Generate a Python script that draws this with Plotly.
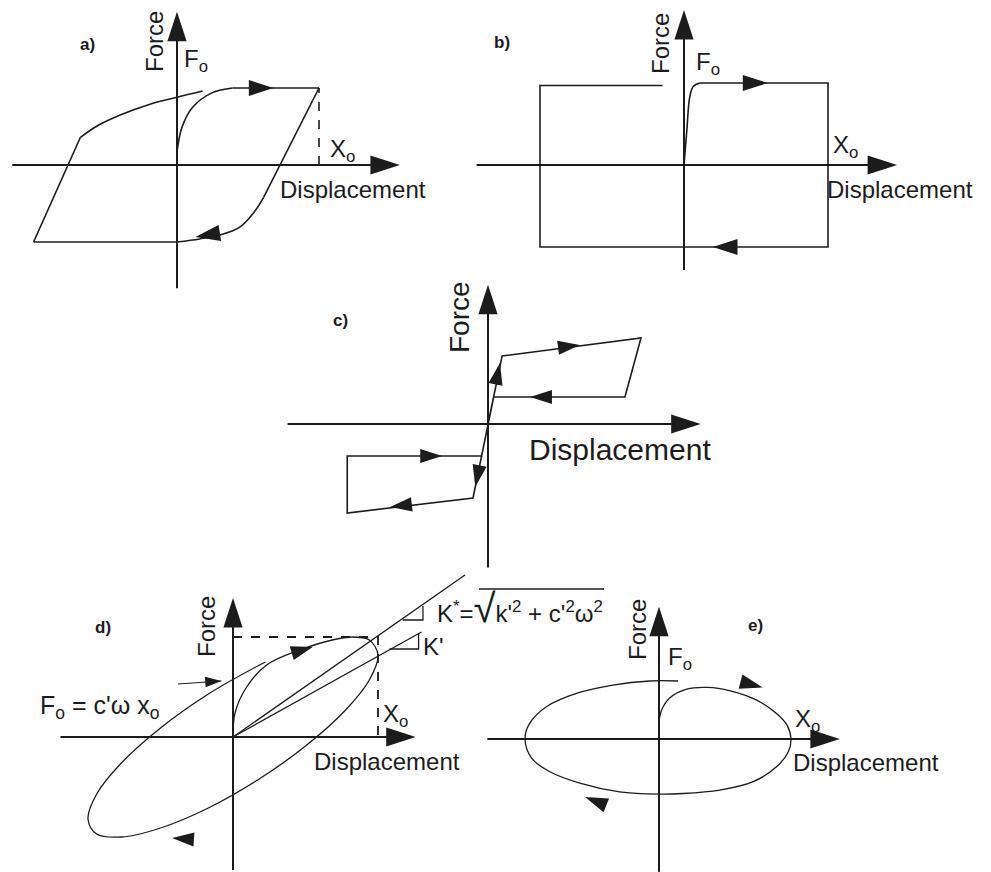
import plotly.graph_objects as go

W, H = 991, 872
INK = "#1c1c1c"
FONT = "Liberation Sans, Arial, Helvetica, sans-serif"

# Units in every panel: displacement in X_o, force in F_o (peak force).

# ---------- a) curved-knee hysteresis ----------
a_init_x = [0.0, 0.035, 0.11, 0.25, 0.39]
a_init_f = [0.17, 0.49, 0.75, 0.94, 1.0]
a_top_x = [0.39, 1.0]
a_top_f = [1.0, 1.0]
a_unload_x = [1.0, 0.61]
a_unload_f = [1.0, -0.42]
a_knee_x = [0.61, 0.54, 0.44, 0.30, 0.16, 0.0]
a_knee_f = [-0.42, -0.62, -0.81, -0.91, -0.96, -1.0]
a_bottom_x = [0.0, -1.01]
a_bottom_f = [-1.0, -1.0]
a_reload_x = [-1.01, -0.68]
a_reload_f = [-1.0, 0.36]
a_return_x = [-0.68, -0.56, -0.40, -0.19, 0.0, 0.18]
a_return_f = [0.36, 0.51, 0.65, 0.79, 0.88, 0.96]
a_xo_x = [1.0, 1.0]
a_xo_f = [0.0, 1.0]
# arrowheads: tip x, tip f, travel direction dx, df
a_arrows = [(0.68, 1.0, 1.0, 0.0), (0.13, -0.935, -1.0, -0.3)]

# ---------- b) rigid-plastic (friction) loop ----------
b_init_x = [0.0, 0.02, 0.04, 0.065, 0.11]
b_init_f = [0.0, 0.43, 0.83, 0.96, 1.0]
b_loop_x = [0.11, 1.0, 1.0, -1.0, -1.0, -0.15]
b_loop_f = [1.0, 1.0, -1.0, -1.0, 0.97, 0.97]
b_arrows = [(0.58, 1.0, 1.0, 0.0), (0.2, -1.0, -1.0, 0.0)]

# ---------- c) bilinear loop ----------
c_loop_x = [0.0, 0.092, 1.0, 0.895, 0.037, 0.0, -0.098, -0.92, -0.92, -0.045]
c_loop_f = [0.0, 0.79, 1.0, 0.314, 0.314, 0.0, -0.86, -1.035, -0.372, -0.372]
c_arrows = [(0.078, 0.71, 0.092, 0.79), (0.60, 0.92, 0.908, 0.21),
            (0.275, 0.314, -1.0, 0.0), (-0.083, -0.73, -0.098, -0.86),
            (-0.64, -0.965, -0.82, -0.175), (-0.30, -0.372, 1.0, 0.0)]

# ---------- d) viscoelastic ellipse ----------
d_init_x = [0.0, 0.014, 0.094, 0.232, 0.46, 0.715, 0.82]
d_init_f = [0.0, 0.24, 0.50, 0.72, 0.87, 0.98, 1.0]
d_loop_x = [0.82, 0.94, 1.0, 0.94, 0.77, 0.5, 0.17, -0.17, -0.5, -0.77, -0.94,
            -1.0, -0.94, -0.77, -0.5, -0.17, 0.17, 0.225]
d_loop_f = [1.0, 0.97, 0.82, 0.57, 0.26, -0.09, -0.43, -0.71, -0.91, -1.0, -0.97,
            -0.82, -0.57, -0.26, 0.09, 0.43, 0.71, 0.75]
d_kstar_x = [0.0, 1.6]
d_kstar_f = [0.0, 1.62]
d_kprime_x = [0.0, 1.3]
d_kprime_f = [0.0, 1.05]
d_tri1_x = [1.17, 1.31, 1.31]
d_tri1_f = [1.17, 1.17, 1.31]
d_tri2_x = [1.08, 1.28, 1.28]
d_tri2_f = [0.88, 0.88, 1.04]
d_peak_x = [0.0, 1.0, 1.0]
d_peak_f = [1.0, 1.0, 0.0]
d_arrows = [(0.55, 0.90, 1.0, 0.42), (-0.42, -1.01, -1.0, 0.1)]
d_pointer_x = [-0.38, -0.08]
d_pointer_f = [0.53, 0.56]

# ---------- e) elliptical loop ----------
e_loop_x = [0.0, 0.02, 0.083, 0.21, 0.37, 0.54, 0.74, 0.89, 0.97, 1.0, 0.98, 0.89,
            0.71, 0.46, 0.18, 0.0, -0.30, -0.60, -0.83, -0.965, -1.015, -0.98,
            -0.85, -0.62, -0.35, -0.07, 0.145]
e_loop_f = [0.3, 0.5, 0.71, 0.86, 0.89, 0.83, 0.67, 0.44, 0.24, 0.0, -0.22, -0.48,
            -0.74, -0.88, -0.94, -0.95, -0.91, -0.76, -0.56, -0.33, 0.0, 0.27,
            0.56, 0.79, 0.93, 1.0, 1.0]
e_arrows = [(0.785, 0.89, 1.0, -0.6), (-0.56, -1.0, -1.0, 0.9)]

# Panel frames: origin in px, px per unit, extent of the drawn axes (units)
PANELS = {
    "a": dict(ox=177, oy=165, ux=142, uy=77, ax_x=(-1.16, 1.57), ax_y=(-1.6, 1.99)),
    "b": dict(ox=684, oy=165, ux=144, uy=82, ax_x=(-1.44, 1.48), ax_y=(-1.28, 1.89)),
    "c": dict(ox=488, oy=424, ux=153, uy=86, ax_x=(-1.31, 1.39), ax_y=(-1.67, 1.62)),
    "d": dict(ox=233, oy=737, ux=145, uy=100, ax_x=(-1.19, 1.26), ax_y=(-1.33, 1.39)),
    "e": dict(ox=659, oy=739, ux=132, uy=58, ax_x=(-1.30, 1.37), ax_y=(-2.29, 2.28)),
}

# (x, f, line shape, dash, width)
STROKES = {
    "a": [(a_init_x, a_init_f, "spline", "solid", 1.6),
          (a_top_x, a_top_f, "linear", "solid", 1.6),
          (a_unload_x, a_unload_f, "linear", "solid", 1.6),
          (a_knee_x, a_knee_f, "spline", "solid", 1.6),
          (a_bottom_x, a_bottom_f, "linear", "solid", 1.6),
          (a_reload_x, a_reload_f, "linear", "solid", 1.6),
          (a_return_x, a_return_f, "spline", "solid", 1.6),
          (a_xo_x, a_xo_f, "linear", "dash", 1.6)],
    "b": [(b_init_x, b_init_f, "spline", "solid", 1.6),
          (b_loop_x, b_loop_f, "linear", "solid", 1.6)],
    "c": [(c_loop_x, c_loop_f, "linear", "solid", 1.6)],
    "d": [(d_init_x, d_init_f, "spline", "solid", 1.3),
          (d_loop_x, d_loop_f, "spline", "solid", 1.3),
          (d_kstar_x, d_kstar_f, "linear", "solid", 1.3),
          (d_kprime_x, d_kprime_f, "linear", "solid", 1.3),
          (d_tri1_x, d_tri1_f, "linear", "solid", 1.3),
          (d_tri2_x, d_tri2_f, "linear", "solid", 1.3),
          (d_peak_x, d_peak_f, "linear", "dash", 1.8),
          (d_pointer_x, d_pointer_f, "linear", "solid", 1.1)],
    "e": [(e_loop_x, e_loop_f, "spline", "solid", 1.3)],
}
ARROWS = {"a": a_arrows, "b": b_arrows, "c": c_arrows, "d": d_arrows, "e": e_arrows}
ARROW_SIZE = {"a": 26, "b": 26, "c": 23, "d": 23, "e": 24}

fig = go.Figure()
layout_axes = {}


def arrow_marker(size):
    return dict(symbol="arrow", size=[0, size], angleref="previous", opacity=1,
                color=INK, line=dict(width=0))


for i, key in enumerate("abcde", start=1):
    p = PANELS[key]
    sfx = "" if i == 1 else str(i)
    xr, yr = "x" + sfx, "y" + sfx
    xs = [v for s in STROKES[key] for v in s[0]] + list(p["ax_x"])
    ys = [v for s in STROKES[key] for v in s[1]] + list(p["ax_y"])
    xmin, xmax = min(xs) - 0.1, max(xs) + 0.1
    ymin, ymax = min(ys) - 0.1, max(ys) + 0.1
    xmin = max(xmin, -p["ox"] / p["ux"])
    xmax = min(xmax, (W - p["ox"]) / p["ux"])
    ymin = max(ymin, -(H - p["oy"]) / p["uy"])
    ymax = min(ymax, p["oy"] / p["uy"])
    dom_x = [max(0, (p["ox"] + xmin * p["ux"]) / W), min(1, (p["ox"] + xmax * p["ux"]) / W)]
    dom_y = [max(0, 1 - (p["oy"] - ymin * p["uy"]) / H), min(1, 1 - (p["oy"] - ymax * p["uy"]) / H)]
    layout_axes["xaxis" + sfx] = dict(domain=dom_x, range=[xmin, xmax], visible=False,
                                      fixedrange=True, anchor=yr)
    layout_axes["yaxis" + sfx] = dict(domain=dom_y, range=[ymin, ymax], visible=False,
                                      fixedrange=True, anchor=xr)

    for sx, sy, shape, dash, lw in STROKES[key]:
        fig.add_trace(go.Scatter(x=sx, y=sy, xaxis=xr, yaxis=yr, mode="lines",
                                 line=dict(color=INK, width=lw, shape=shape, dash=dash),
                                 hoverinfo="skip"))

    # coordinate axes with arrow tips
    for axx, axy in ((list(p["ax_x"]), [0, 0]), ([0, 0], list(p["ax_y"]))):
        fig.add_trace(go.Scatter(x=axx, y=axy, xaxis=xr, yaxis=yr, mode="lines+markers",
                                 line=dict(color=INK, width=2), marker=arrow_marker(31),
                                 hoverinfo="skip"))

    # direction-of-travel arrowheads
    for tx, tf, dx, df in ARROWS[key]:
        fig.add_trace(go.Scatter(x=[tx - 0.05 * dx, tx], y=[tf - 0.05 * df, tf],
                                 xaxis=xr, yaxis=yr, mode="markers",
                                 marker=arrow_marker(ARROW_SIZE[key]), hoverinfo="skip"))

# arrowhead of the pointer to the force intercept in d)
fig.add_trace(go.Scatter(x=d_pointer_x, y=d_pointer_f, xaxis="x4", yaxis="y4", mode="markers",
                         marker=arrow_marker(17), hoverinfo="skip"))

annotations = []


def label(text, xpx, ypx, size, xanchor="left", angle=0, bold=False):
    annotations.append(dict(
        text=f"<b>{text}</b>" if bold else text, x=xpx / W, y=1 - ypx / H,
        xref="paper", yref="paper", xanchor=xanchor, yanchor="middle",
        showarrow=False, textangle=angle,
        font=dict(family=FONT, size=size, color=INK)))


# panel a
label("a)", 87, 44, 17, "center", bold=True)
label("Force", 155, 42, 24, "center", -90)
label("F<sub>o</sub>", 182, 60, 24)
label("X<sub>o</sub>", 328, 150, 24)
label("Displacement", 278, 189, 24)
# panel b
label("b)", 502, 43, 17, "center", bold=True)
label("Force", 660, 44, 24, "center", -90)
label("F<sub>o</sub>", 694, 63, 24)
label("X<sub>o</sub>", 831, 146, 24)
label("Displacement", 825, 189, 24)
# panel c
label("c)", 340, 320, 17, "center", bold=True)
label("Force", 459, 317, 28, "center", -90)
label("Displacement", 527, 449, 30)
# panel d
label("d)", 103, 627, 17, "center", bold=True)
label("Force", 206, 627, 24, "center", -90)
label('K<sup>*</sup>=<span style="font-size:40px">√</span>k\'<sup>2</sup> + c\'<sup>2</sup>ω<sup>2</sup>',
      435, 608, 24)
label("K'", 421, 646, 24)
label("F<sub>o</sub> = c'ω x<sub>o</sub>", 38, 707, 25)
label("X<sub>o</sub>", 381, 715, 24)
label("Displacement", 312, 761, 24)
# panel e
label("e)", 755, 625, 17, "center", bold=True)
label("Force", 637, 630, 24, "center", -90)
label("F<sub>o</sub>", 666, 658, 24)
label("X<sub>o</sub>", 793, 720, 24)
label("Displacement", 791, 762, 24)

# radical bar over the K* expression
shapes = [dict(type="line", xref="paper", yref="paper", x0=479 / W, x1=604 / W,
               y0=1 - 589 / H, y1=1 - 589 / H, line=dict(color=INK, width=1.3))]

fig.update_layout(
    width=W, height=H, margin=dict(l=0, r=0, t=0, b=0),
    paper_bgcolor="white", plot_bgcolor="rgba(0,0,0,0)",
    showlegend=False, annotations=annotations, shapes=shapes,
    **layout_axes,
)

fig.write_html("out.html")
